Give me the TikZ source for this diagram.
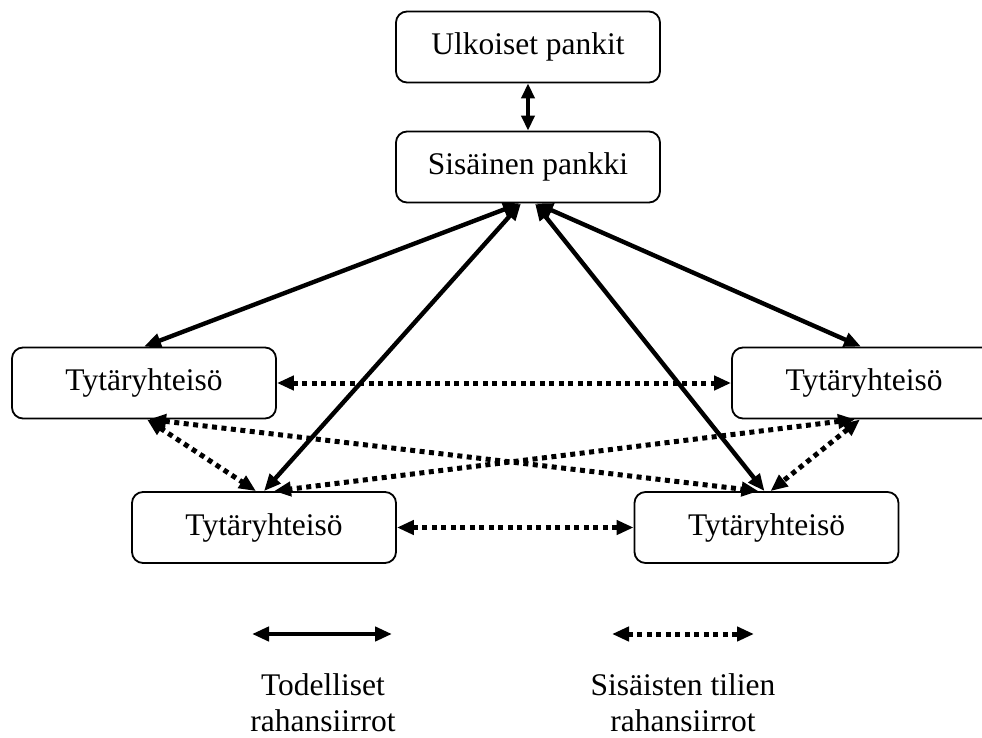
\documentclass[tikz,border=0pt]{standalone}
\usepackage{fontspec}
\setmainfont{Liberation Serif}
\usetikzlibrary{arrows.meta,calc}
\begin{document}
\begin{tikzpicture}[x=1pt,y=-1pt,
  box/.style={draw,line width=1.8pt,rounded corners=11pt,minimum width=264pt,minimum height=71pt,inner sep=0pt,font=\fontsize{31.5}{36}\selectfont},
  real/.style={line width=4.4pt,{Triangle[length=17pt,width=14pt]}-{Triangle[length=17pt,width=14pt]}},
  internal/.style={line width=5pt,dash pattern=on 5pt off 4.5pt,{Triangle[length=17pt,width=14pt]}-{Triangle[length=17pt,width=14pt]}},
  lbl/.style={align=center,font=\fontsize{31.5}{36}\selectfont}]
\useasboundingbox (0,0) rectangle (982,738);
\clip (0,0) rectangle (982,738);

\node[box] (up) at (528,47) {Ulkoiset pankit};
\node[box] (sp) at (528,167) {Sisäinen pankki};
\node[box] (tl) at (144,383) {Tytäryhteisö};
\node[box] (tr) at (864,383) {Tytäryhteisö};
\node[box] (bl) at (264,527.5) {Tytäryhteisö};
\node[box] (br) at (766.5,527.5) {Tytäryhteisö};

\draw[line width=3.8pt,{Triangle[length=15pt,width=13pt]}-{Triangle[length=15pt,width=13pt]}] (up.south) -- (sp.north);

\coordinate (spa) at ($(sp.south)+(-8,0)$);
\coordinate (spb) at ($(sp.south)+(-7,0)$);
\coordinate (spc) at ($(sp.south)+(7,0)$);
\coordinate (spd) at ($(sp.south)+(8,0)$);
\draw[real] (spa) -- (tl.north);
\draw[real] (spb) -- (bl.north);
\draw[real] (spc) -- ($(br.north)+(-2,0)$);
\draw[real] (spd) -- ($(tr.north)+(-3,0)$);

\draw[internal] (tl.east) -- (tr.west);
\draw[internal] (bl.east) -- (br.west);
\draw[internal] ($(tl.south)+(3,0)$) -- ($(bl.north)+(-8,0)$);
\draw[internal] ($(tl.south)+(5,0)$) -- ($(br.north)+(-8,0)$);
\draw[internal] ($(tr.south)+(-9,0)$) -- ($(bl.north)+(10,0)$);
\draw[internal] ($(tr.south)+(-4,0)$) -- ($(br.north)+(4,0)$);

\coordinate (l1a) at (252,634);
\coordinate (l1b) at (392,634);
\coordinate (l2a) at (612,634);
\coordinate (l2b) at (754,634);
\draw[real] (l1a) -- (l1b);
\draw[internal] (l2a) -- (l2b);
\node[lbl] (t1) at (323,703) {Todelliset\\rahansiirrot};
\node[lbl] (t2) at (683,703) {Sisäisten tilien\\rahansiirrot};
\end{tikzpicture}
\end{document}
